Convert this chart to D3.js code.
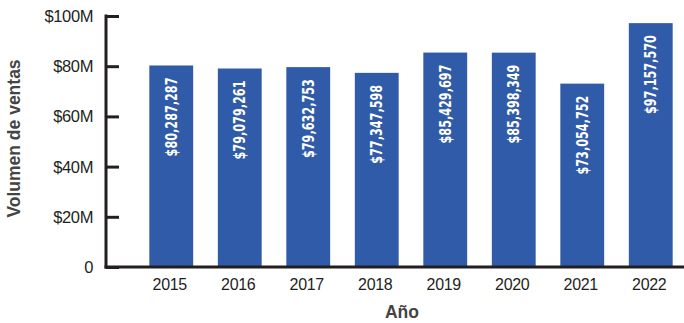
<!DOCTYPE html>
<html>
<head>
<meta charset="utf-8">
<script src="https://cdn.jsdelivr.net/npm/d3@7"></script>
<style>
  html, body { margin: 0; padding: 0; background: #fff; }
  svg { display: block; }
</style>
</head>
<body>
<svg id="chart" width="684" height="323"></svg>
<script>
// Ventas anuales
const years = ["2015", "2016", "2017", "2018", "2019", "2020", "2021", "2022"];
const sales = [80287287, 79079261, 79632753, 77347598, 85429697, 85398349, 73054752, 97157570];
const yTicks = [0, 20e6, 40e6, 60e6, 80e6, 100e6];
const yTickLabels = ["0", "$20M", "$40M", "$60M", "$80M", "$100M"];

const svg = d3.select("#chart");
const axisColor = "#231f20";
const barColor = "#305ba8";
const fmtMoney = d => "$" + d3.format(",")(d);

const x = d3.scaleBand()
  .domain(years)
  .range([137, 685])
  .paddingInner(0.36)
  .paddingOuter(0.18);

const y = d3.scaleLinear()
  .domain([0, 100e6])
  .range([267, 16]);

// Barras
svg.append("g")
  .selectAll("rect")
  .data(years)
  .join("rect")
  .attr("x", d => x(d))
  .attr("width", x.bandwidth())
  .attr("y", (d, i) => y(sales[i]))
  .attr("height", (d, i) => y(0) - y(sales[i]))
  .attr("fill", barColor);

// Etiquetas de valor, verticales dentro de cada barra (tipografía comprimida)
const labels = svg.append("g")
  .selectAll("text")
  .data(years)
  .join("text")
  .attr("text-anchor", "end")
  .attr("dominant-baseline", "central")
  .attr("fill", "#fff")
  .style("font-family", "'DejaVu Sans Condensed', 'DejaVu Sans', sans-serif")
  .style("font-weight", "bold")
  .style("font-size", "15px")
  .text((d, i) => fmtMoney(sales[i]));

const natural = labels.nodes()[0].getComputedTextLength();
const squeeze = natural > 0 ? 79 / natural : 0.75;
labels.attr("transform", (d, i) =>
  `translate(${x(d) + x.bandwidth() / 2},${y(sales[i]) + 12}) rotate(-90) scale(${squeeze},1)`);

// Eje Y
const yAxis = d3.axisRight(y)
  .tickValues(yTicks)
  .tickSize(13)
  .tickFormat("");
const gy = svg.append("g")
  .attr("transform", "translate(106,0)")
  .call(yAxis);
gy.select(".domain").remove();
gy.selectAll(".tick line").attr("stroke", axisColor).attr("stroke-width", 3);

svg.append("g")
  .selectAll("text")
  .data(yTicks)
  .join("text")
  .attr("x", 93)
  .attr("y", d => y(d))
  .attr("text-anchor", "end")
  .attr("dominant-baseline", "central")
  .attr("fill", axisColor)
  .style("font-family", "'Liberation Sans', Arial, sans-serif")
  .style("font-size", "16.5px")
  .style("letter-spacing", "-0.4px")
  .text((d, i) => yTickLabels[i]);

// Líneas de ejes
svg.append("line")
  .attr("x1", 106).attr("x2", 106)
  .attr("y1", y(100e6) - 1.5).attr("y2", y(0) + 1.5)
  .attr("stroke", axisColor).attr("stroke-width", 3);
svg.append("line")
  .attr("x1", 104.5).attr("x2", 684)
  .attr("y1", y(0)).attr("y2", y(0))
  .attr("stroke", axisColor).attr("stroke-width", 3);

// Eje X
const gx = svg.append("g")
  .attr("transform", `translate(0,${y(0)})`)
  .call(d3.axisBottom(x).tickSize(0).tickPadding(12));
gx.select(".domain").remove();
gx.selectAll("text")
  .attr("fill", axisColor)
  .attr("dx", -1.5)
  .style("font-family", "'Liberation Sans', Arial, sans-serif")
  .style("font-size", "16px")
  .style("letter-spacing", "-0.3px");

// Títulos de ejes
svg.append("text")
  .attr("x", 402)
  .attr("y", 318)
  .attr("text-anchor", "middle")
  .attr("fill", "#444")
  .style("font-family", "'Liberation Sans', Arial, sans-serif")
  .style("font-weight", "bold")
  .style("font-size", "17.5px")
  .text("Año");

svg.append("text")
  .attr("transform", "translate(20,138.5) rotate(-90)")
  .attr("text-anchor", "middle")
  .attr("fill", "#444")
  .style("font-family", "'Liberation Sans', Arial, sans-serif")
  .style("font-weight", "bold")
  .style("font-size", "17.5px")
  .text("Volumen de ventas");
</script>
</body>
</html>
